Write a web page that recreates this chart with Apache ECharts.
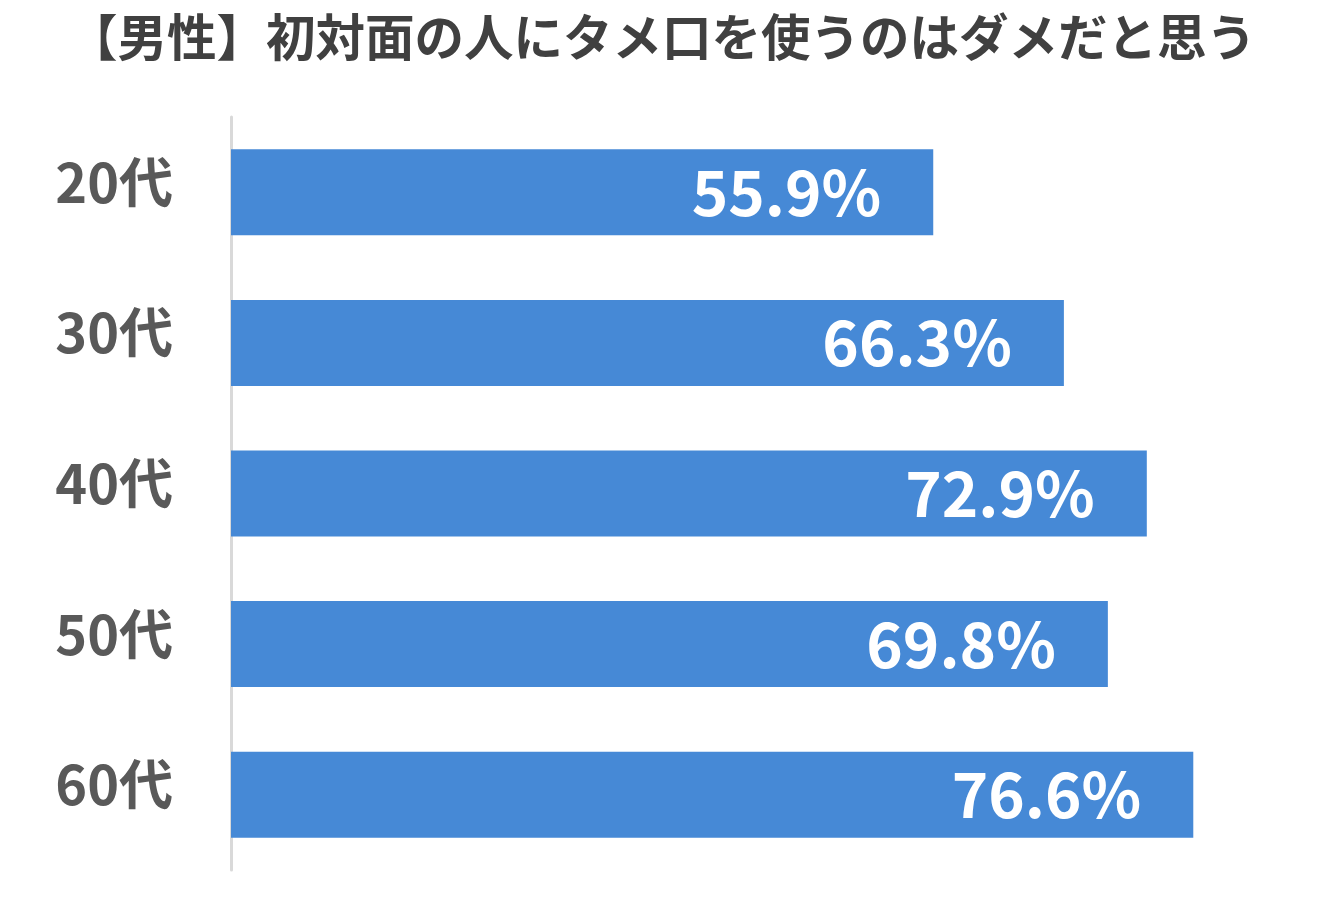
<!DOCTYPE html>
<html>
<head>
<meta charset="utf-8">
<script src="https://cdn.jsdelivr.net/npm/echarts@6/dist/echarts.min.js"></script>
<style>html,body{margin:0;padding:0;background:#fff}#c{width:1324px;height:924px}</style>
</head>
<body>
<div id="c"></div>
<script>
const titleText = '【男性】初対面の人にタメ口を使うのはダメだと思う';
const categories = ['20代', '30代', '40代', '50代', '60代'];
const values = [55.9, 66.3, 72.9, 69.8, 76.6];

const chart = echarts.init(document.getElementById('c'));
chart.setOption({
  backgroundColor: '#ffffff',
  animation: false,
  title: {
    text: titleText,
    left: 'center',
    top: 7,
    textStyle: {
      fontFamily: 'Noto Sans CJK JP',
      fontWeight: 'bold',
      fontSize: 49.5,
      color: '#404040'
    }
  },
  grid: { left: 231, top: 117, height: 753, right: 88 },
  xAxis: {
    type: 'value',
    min: 0,
    max: 80,
    show: false
  },
  yAxis: {
    type: 'category',
    data: categories,
    inverse: true,
    axisTick: { show: false },
    axisLine: { show: true, lineStyle: { color: '#d9d9d9', width: 3 } },
    axisLabel: {
      margin: 58,
      verticalAlign: 'bottom',
      lineHeight: 20,
      fontFamily: 'Noto Sans CJK JP',
      fontWeight: 'bold',
      fontSize: 54,
      color: '#595959'
    }
  },
  series: [{
    type: 'bar',
    data: values,
    barWidth: 86,
    itemStyle: { color: '#4689d6' },
    label: {
      show: true,
      position: 'insideRight',
      distance: 52,
      formatter: p => p.value.toFixed(1) + '%',
      fontFamily: 'Noto Sans CJK JP',
      fontWeight: 'bold',
      fontSize: 62,
      color: '#ffffff'
    }
  }]
});
</script>
</body>
</html>
